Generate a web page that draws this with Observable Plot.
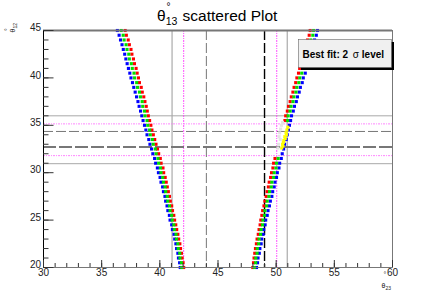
<!DOCTYPE html>
<html><head><meta charset="utf-8">
<script src="https://cdn.jsdelivr.net/npm/d3@7"></script>
<script src="https://cdn.jsdelivr.net/npm/@observablehq/plot@0.6"></script>
<style>
body{margin:0;background:#fff;}
svg{display:block;}
</style>
</head><body><div id="chart"></div>
<script>
// ---- data ----
const th12 = [45,44.5,44,43.5,43,42.5,42,41.5,41,40.5,40,39.5,39,38.5,38,37.5,37,36.5,36,35.5,35,34.5,34,33.5,33,32.5,32,31.5,31,30.5,30,29.5,29,28.5,28,27.5,27,26.5,26,25.5,25,24.5,24,23.5,23,22.5,22,21.5,21,20.5,20];

const leftRed = [37.02,37.12,37.28,37.38,37.52,37.60,37.73,37.82,37.96,38.05,
  38.16,38.25,38.40,38.49,38.62,38.72,38.83,38.92,39.01,39.12,
  39.23,39.32,39.44,39.56,39.67,39.80,39.90,40.04,40.11,40.27,
  40.33,40.46,40.55,40.64,40.73,40.83,40.90,41.02,41.09,41.20,
  41.27,41.37,41.45,41.55,41.62,41.72,41.78,41.86,41.92,42.00,42.05];
const leftGreen = [36.68,36.85,36.93,37.10,37.18,37.33,37.38,37.55,37.63,37.78,
  37.83,38.01,38.08,38.25,38.33,38.48,38.53,38.68,38.73,38.90,
  38.96,39.12,39.18,39.36,39.43,39.61,39.68,39.84,39.90,40.05,
  40.10,40.25,40.31,40.45,40.50,40.64,40.68,40.83,40.88,41.02,
  41.06,41.20,41.25,41.39,41.43,41.55,41.58,41.71,41.73,41.85,41.88];
const leftBlue = [36.35,36.50,36.62,36.75,36.86,36.98,37.08,37.19,37.30,37.42,
  37.52,37.65,37.76,37.88,38.00,38.12,38.22,38.34,38.45,38.56,
  38.68,38.80,38.90,39.05,39.15,39.29,39.40,39.55,39.64,39.79,
  39.88,40.02,40.10,40.24,40.31,40.44,40.50,40.62,40.69,40.82,
  40.88,41.02,41.08,41.22,41.28,41.38,41.44,41.55,41.60,41.70,41.75];

const rightRed = [52.92,52.84,52.70,52.62,52.48,52.40,52.26,52.17,52.02,51.92,
  51.78,51.68,51.54,51.44,51.30,51.20,51.06,50.96,50.82,50.75,
  null,null,null,null,null,null,null,49.90,49.78,49.72,
  49.60,49.52,49.40,49.33,49.22,49.14,49.03,48.95,48.84,48.77,
  48.68,48.62,48.53,48.46,48.36,48.30,48.22,48.16,48.10,48.05,47.99];
const rightGreen = [53.22,53.15,52.98,52.92,52.76,52.69,52.53,52.45,52.28,52.20,
  52.03,51.95,51.78,51.70,51.53,51.45,51.28,51.20,51.03,50.98,
  null,null,null,null,null,null,null,50.17,50.03,49.98,
  49.83,49.78,49.63,49.58,49.43,49.38,49.23,49.18,49.03,48.99,
  48.86,48.83,48.70,48.66,48.53,48.50,48.38,48.36,48.25,48.24,48.13];
const rightBlue = [53.55,53.45,53.30,53.22,53.08,52.98,52.84,52.74,52.58,52.50,
  52.33,52.24,52.08,51.98,51.83,51.73,51.57,51.47,51.32,51.24,
  51.14,51.05,50.95,50.86,50.72,50.64,50.52,50.44,50.30,50.24,
  50.10,50.03,49.90,49.83,49.70,49.63,49.50,49.42,49.30,49.23,
  49.10,49.05,48.93,48.88,48.76,48.71,48.60,48.55,48.44,48.40,48.31];

const yellowX = [51.00,50.92,50.85,50.88,50.74,50.78,50.66,50.62,50.55,50.58,50.48];
const yellowY = [34.8,34.5,34.2,34.0,33.8,33.6,33.4,33.2,33.0,32.8,32.6];
const paleX = [50.55,50.45,50.38,50.30,50.25,50.35,50.20,50.15];
const paleY = [35.3,35.0,34.6,34.2,33.8,33.5,33.0,32.6];

// reference lines
const vSolid = [41.05, 50.95];
const vDotted = [42.05, 50.05];
const vDashGray = [44.0];
const vDashBlack = [49.0];
const hSolid = [36.0, 30.95];
const hDotted = [35.15, 31.8];
const hDashThin = [34.35];
const hDashThick = [32.7];

// ticks
const xTicks = [30,35,40,45,50,55,60];
const yTicks = [20,25,30,35,40,45];
const xMinor = d3.range(30, 61, 1);
const yMinor = d3.range(20, 46, 1);

// ---- build ----
const W = 436, H = 297, mL = 43, mR = 44, mT = 30, mB = 30;
const fW = W - mL - mR, fH = H - mT - mB;
const pts = (xs, ys) => xs.map((x, i) => ({x, y: ys[i]})).filter(d => d.x != null);
const series = [
  {d: pts(leftRed, th12), c: "#ff0000"},
  {d: pts(rightRed, th12), c: "#ff0000"},
  {d: pts(leftBlue, th12), c: "#0000ff"},
  {d: pts(rightBlue, th12), c: "#0000ff"},
  {d: pts(leftGreen, th12), c: "#00e000"},
  {d: pts(rightGreen, th12), c: "#00e000"},
  {d: pts(paleX, paleY), c: "#e4e4e4"},
  {d: pts(yellowX, yellowY), c: "#ffff00"}
];

const chart = Plot.plot({
  width: W, height: H,
  marginLeft: mL, marginRight: mR, marginTop: mT, marginBottom: mB,
  x: {domain: [30, 60], axis: null},
  y: {domain: [20, 45], axis: null},
  style: {fontFamily: "'Liberation Sans', Arial, sans-serif", background: "#fff", overflow: "visible"},
  marks: [
    // reference lines
    Plot.ruleX(vSolid, {x: d => d, stroke: "#9a9a9a", strokeWidth: 1}),
    Plot.ruleY(hSolid, {y: d => d, stroke: "#a8a8a8", strokeWidth: 1}),
    Plot.ruleX(vDotted, {x: d => d, stroke: "#ff33ff", strokeWidth: 1, strokeDasharray: "2,1,1,1", strokeOpacity: 0.85}),
    Plot.ruleY(hDotted, {y: d => d, stroke: "#ff66ff", strokeWidth: 1, strokeDasharray: "2,1,1,1", strokeOpacity: 0.8}),
    Plot.ruleX(vDashGray, {x: d => d, stroke: "#777", strokeWidth: 1, strokeDasharray: "10,3"}),
    Plot.ruleY(hDashThin, {y: d => d, stroke: "#777", strokeWidth: 1, strokeDasharray: "10,3"}),
    Plot.ruleY(hDashThick, {y: d => d, stroke: "#777", strokeWidth: 2, strokeDasharray: "13,3"}),
    Plot.ruleX(vDashBlack, {x: d => d, stroke: "#000", strokeWidth: 1.4, strokeDasharray: "10,3"}),
    // scatter
    ...series.map(s => Plot.dot(s.d, {x: "x", y: "y", symbol: "square", r: 1.75, fill: s.c, stroke: null})),
    // frame
    Plot.frame({stroke: "#777", strokeWidth: 1}),
    Plot.ruleY([45], {stroke: "#777", strokeWidth: 2}),
    Plot.ruleX([30], {stroke: "#000", strokeWidth: 1}),
    // ticks
    Plot.tickX(xMinor, {x: d => d, insetTop: fH - 4, stroke: "#333"}),
    Plot.tickX(xTicks, {x: d => d, insetTop: fH - 7, stroke: "#333"}),
    Plot.tickY(yMinor, {y: d => d, insetRight: fW - 5.5, stroke: "#333"}),
    Plot.tickY(yTicks, {y: d => d, insetRight: fW - 10.5, stroke: "#333"}),
    // tick labels
    Plot.text(xTicks, {x: d => d, text: d => String(d), frameAnchor: "bottom", dy: 8.5, fontSize: 10, fill: "#222"}),
    Plot.text(yTicks, {y: d => d, text: d => String(d), frameAnchor: "left", textAnchor: "end", dx: -2.5, dy: -2.5, fontSize: 10, fill: "#222"})
  ]
});
document.getElementById("chart").append(chart);

const svg = d3.select(chart);
const ff = "'Liberation Sans', Arial, sans-serif";
const txt = () => svg.append("text").attr("text-anchor", "start").attr("font-family", ff);
// title
const t = txt().attr("x", 157).attr("y", 21).attr("font-size", 15.5).attr("fill", "#000");
t.append("tspan").text("θ");
t.append("tspan").attr("font-size", 10.5).attr("dy", 4).text("13");
t.append("tspan").attr("dy", -4).attr("dx", 1).text(" scattered Plot");
txt().attr("x", 166.5).attr("y", 10).attr("font-size", 10).text("°");

// x axis title
const xt = txt().attr("x", 381.5).attr("y", 288).attr("font-size", 7).attr("fill", "#222");
xt.append("tspan").text("θ");
xt.append("tspan").attr("font-size", 5).attr("dy", 2).text("23");
txt().attr("x", 383.5).attr("y", 277).attr("font-size", 7).attr("fill", "#222").text("°");

// y axis title (rotated)
const yt = txt().attr("transform", "translate(15,32.5) rotate(-90)").attr("font-size", 7).attr("fill", "#222");
yt.append("tspan").text("θ");
yt.append("tspan").attr("font-size", 5).attr("dy", 2).text("12");
txt().attr("transform", "translate(10,31) rotate(-90)").attr("font-size", 7).attr("fill", "#222").text("°");

// legend box
svg.append("rect").attr("x", 301).attr("y", 42).attr("width", 93).attr("height", 28).attr("fill", "#000");
svg.append("rect").attr("x", 298.5).attr("y", 39.5).attr("width", 93).attr("height", 28).attr("fill", "#f0f0f0").attr("stroke", "#666").attr("stroke-width", 0.6);
const lt = txt().attr("x", 302.5).attr("y", 57.5).attr("font-size", 10).attr("font-weight", "bold").attr("fill", "#000");
lt.append("tspan").text("Best fit: 2 ");
lt.append("tspan").attr("dx", 2).attr("font-weight", "normal").text("σ");
lt.append("tspan").text(" level");
</script>
</body></html>
